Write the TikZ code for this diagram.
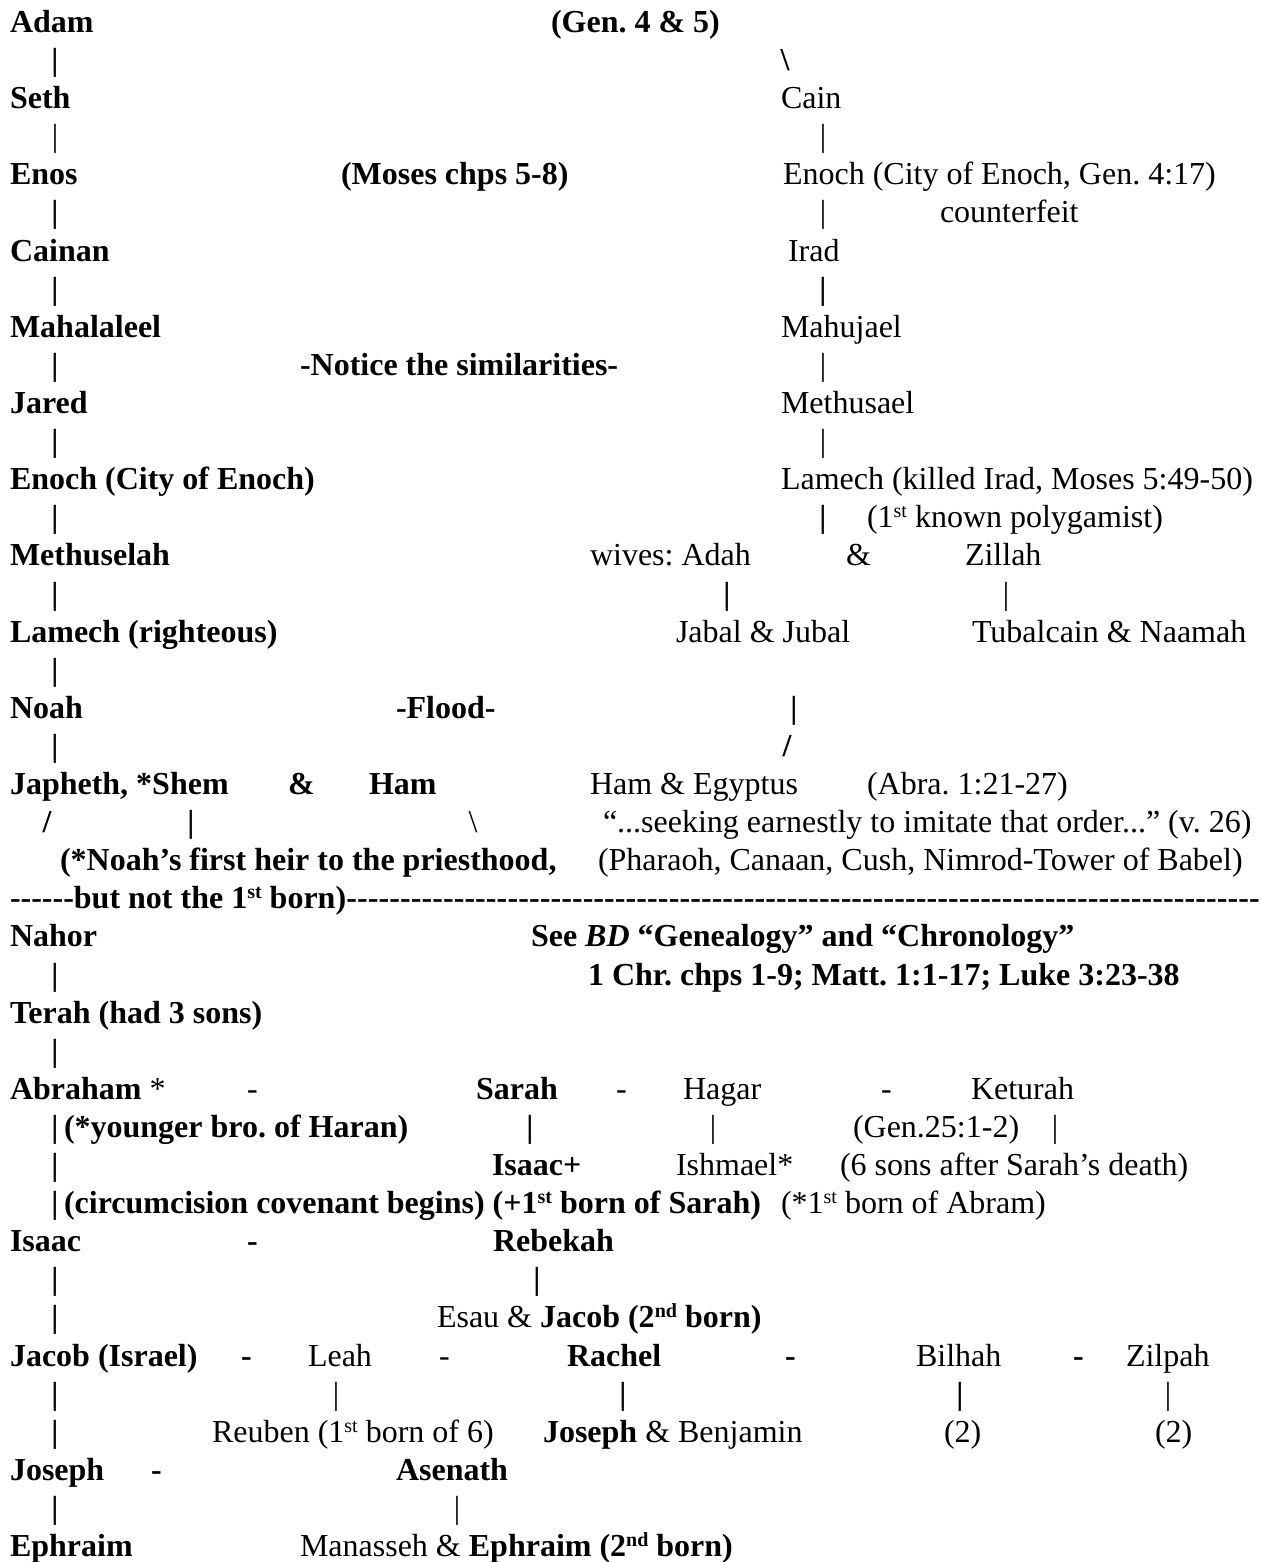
\documentclass[tikz,border=0pt]{standalone}
\usepackage{fontspec}
\setmainfont{Liberation Serif}[Ligatures=TeXOff]
\frenchspacing
\newcommand\myfs{\fontsize{32}{38}\selectfont}
\newcommand\ly[1]{32.5+38.1*#1}
\newcommand\sups[1]{\raisebox{10pt}{\fontsize{20}{20}\selectfont #1}}
\tikzset{
  tb/.style={anchor=base west, inner sep=0pt, outer sep=0pt, font=\myfs\bfseries},
  tr/.style={anchor=base west, inner sep=0pt, outer sep=0pt, font=\myfs},
  barb/.style={anchor=base, inner sep=0pt, outer sep=0pt, font=\myfs\bfseries},
  barr/.style={anchor=base, inner sep=0pt, outer sep=0pt, font=\myfs},
}
\begin{document}
\begin{tikzpicture}[x=1pt,y=-1pt]
\fill[white] (0,0) rectangle (1261,1562);
\useasboundingbox (0,0) rectangle (1261,1562);
% line 0
\node[tb] (adam) at (10,{\ly{0}}) {Adam};
\node[tb] (gen45) at (551,{\ly{0}}) {(Gen. 4 \& 5)};
% line 1
\node[barb] (v1) at (55,{\ly{1}}) {|};
\node[barb] (bs1) at (785,{\ly{1}}) {\textbackslash};
% line 2
\node[tb] (seth) at (10,{\ly{2}}) {Seth};
\node[tr] (cain) at (781,{\ly{2}}) {Cain};
% line 3
\node[barr] (v3) at (55,{\ly{3}}) {|};
\node[barr] (w3) at (823,{\ly{3}}) {|};
% line 4
\node[tb] (enos) at (10,{\ly{4}}) {Enos};
\node[tb] (moses) at (341,{\ly{4}}) {(Moses chps 5-8)};
\node[tr] (enochc) at (783,{\ly{4}}) {Enoch (City of Enoch, Gen. 4:17)};
% line 5
\node[barb] (v5) at (55,{\ly{5}}) {|};
\node[barr] (w5) at (823,{\ly{5}}) {|};
\node[tr] (counter) at (940,{\ly{5}}) {counterfeit};
% line 6
\node[tb] (cainan) at (10,{\ly{6}}) {Cainan};
\node[tr] (irad) at (788,{\ly{6}}) {Irad};
% line 7
\node[barb] (v7) at (55,{\ly{7}}) {|};
\node[barb] (w7) at (823,{\ly{7}}) {|};
% line 8
\node[tb] (mahal) at (10,{\ly{8}}) {Mahalaleel};
\node[tr] (mahuj) at (781,{\ly{8}}) {Mahujael};
% line 9
\node[barb] (v9) at (55,{\ly{9}}) {|};
\node[tb] (notice) at (300,{\ly{9}}) {-Notice the similarities-};
\node[barr] (w9) at (823,{\ly{9}}) {|};
% line 10
\node[tb] (jared) at (10,{\ly{10}}) {Jared};
\node[tr] (methusael) at (781,{\ly{10}}) {Methusael};
% line 11
\node[barb] (v11) at (55,{\ly{11}}) {|};
\node[barr] (w11) at (823,{\ly{11}}) {|};
% line 12
\node[tb] (enoch) at (10,{\ly{12}}) {Enoch (City of Enoch)};
\node[tr] (lamechc) at (781,{\ly{12}}) {Lamech (killed Irad, Moses 5:49-50)};
% line 13
\node[barb] (v13) at (55,{\ly{13}}) {|};
\node[barb] (w13) at (823,{\ly{13}}) {|};
\node[tr] (polyg) at (867,{\ly{13}}) {(1\sups{st} known polygamist)};
% line 14
\node[tb] (methuselah) at (10,{\ly{14}}) {Methuselah};
\node[tr] (adah) at (590,{\ly{14}}) {wives: Adah};
\node[tr] (amp14) at (846,{\ly{14}}) {\&};
\node[tr] (zillah) at (965,{\ly{14}}) {Zillah};
% line 15
\node[barb] (v15) at (55,{\ly{15}}) {|};
\node[barb] (w15a) at (727,{\ly{15}}) {|};
\node[barr] (w15b) at (1006,{\ly{15}}) {|};
% line 16
\node[tb] (lamech) at (10,{\ly{16}}) {Lamech (righteous)};
\node[tr] (jabal) at (676,{\ly{16}}) {Jabal \& Jubal};
\node[tr] (tubal) at (972,{\ly{16}}) {Tubalcain \& Naamah};
% line 17
\node[barb] (v17) at (55,{\ly{17}}) {|};
% line 18
\node[tb] (noah) at (10,{\ly{18}}) {Noah};
\node[tb] (flood) at (396,{\ly{18}}) {-Flood-};
\node[barb] (w18) at (794,{\ly{18}}) {|};
% line 19
\node[barb] (v19) at (55,{\ly{19}}) {|};
\node[barb] (sl19) at (787,{\ly{19}}) {/};
% line 20
\node[tb] (japheth) at (10,{\ly{20}}) {Japheth, *Shem};
\node[tb] (amp20) at (288,{\ly{20}}) {\&};
\node[tb] (ham) at (369,{\ly{20}}) {Ham};
\node[tr] (hameg) at (590,{\ly{20}}) {Ham \& Egyptus};
\node[tr] (abra) at (867,{\ly{20}}) {(Abra. 1:21-27)};
% line 21
\node[barb] (sl21) at (47,{\ly{21}}) {/};
\node[barb] (v21) at (191,{\ly{21}}) {|};
\node[barr] (bs21) at (473,{\ly{21}}) {\textbackslash};
\node[tr] (quote) at (603,{\ly{21}}) {“...seeking earnestly to imitate that order...” (v. 26)};
% line 22
\node[tb] (heir) at (60,{\ly{22}}) {(*Noah’s first heir to the priesthood,};
\node[tr] (pharaoh) at (598,{\ly{22}}) {(Pharaoh, Canaan, Cush, Nimrod-Tower of Babel)};
% line 23
\node[tb] (sep) at (10,{\ly{23}}) {\hbox to 1250pt{------but not the 1\sups{st} born)\xleaders\hbox{-}\hfill}};
% line 24
\node[tb] (nahor) at (10,{\ly{24}}) {Nahor};
\node[tb] (seebd) at (531,{\ly{24}}) {See \textit{BD} “Genealogy” and “Chronology”};
% line 25
\node[barb] (v25) at (55,{\ly{25}}) {|};
\node[tb] (chr) at (588,{\ly{25}}) {1 Chr. chps 1-9; Matt. 1:1-17; Luke 3:23-38};
% line 26
\node[tb] (terah) at (10,{\ly{26}}) {Terah (had 3 sons)};
% line 27
\node[barb] (v27) at (55,{\ly{27}}) {|};
% line 28
\node[tb] (abraham) at (10,{\ly{28}}) {Abraham \mdseries *};
\node[tr] (d28a) at (247,{\ly{28}}) {-};
\node[tb] (sarah) at (476,{\ly{28}}) {Sarah};
\node[tr] (d28b) at (616,{\ly{28}}) {-};
\node[tr] (hagar) at (683,{\ly{28}}) {Hagar};
\node[tr] (d28c) at (881,{\ly{28}}) {-};
\node[tr] (keturah) at (971,{\ly{28}}) {Keturah};
% line 29
\node[barb] (v29) at (55,{\ly{29}}) {|};
\node[tb] (younger) at (64,{\ly{29}}) {(*younger bro. of Haran)};
\node[barb] (w29a) at (530,{\ly{29}}) {|};
\node[barr] (w29b) at (713,{\ly{29}}) {|};
\node[tr] (gen25) at (853,{\ly{29}}) {(Gen.25:1-2)};
\node[barr] (w29c) at (1055,{\ly{29}}) {|};
% line 30
\node[barb] (v30) at (55,{\ly{30}}) {|};
\node[tb] (isaacp) at (492,{\ly{30}}) {Isaac+};
\node[tr] (ishmael) at (676,{\ly{30}}) {Ishmael*};
\node[tr] (sixsons) at (840,{\ly{30}}) {(6 sons after Sarah’s death)};
% line 31
\node[barb] (v31) at (55,{\ly{31}}) {|};
\node[tb] (circ) at (64,{\ly{31}}) {(circumcision covenant begins) (+1\sups{st} born of Sarah)};
\node[tr] (abram) at (781,{\ly{31}}) {(*1\sups{st} born of Abram)};
% line 32
\node[tb] (isaac) at (10,{\ly{32}}) {Isaac};
\node[tb] (d32) at (247,{\ly{32}}) {-};
\node[tb] (rebekah) at (493,{\ly{32}}) {Rebekah};
% line 33
\node[barb] (v33) at (55,{\ly{33}}) {|};
\node[barb] (w33) at (537,{\ly{33}}) {|};
% line 34
\node[barb] (v34) at (55,{\ly{34}}) {|};
\node[tr] (esau) at (437,{\ly{34}}) {Esau \& \textbf{Jacob (2\sups{nd} born)}};
% line 35
\node[tb] (jacob) at (10,{\ly{35}}) {Jacob (Israel)};
\node[tb] (d35a) at (241,{\ly{35}}) {-};
\node[tr] (leah) at (308,{\ly{35}}) {Leah};
\node[tr] (d35b) at (439,{\ly{35}}) {-};
\node[tb] (rachel) at (567,{\ly{35}}) {Rachel};
\node[tb] (d35c) at (785,{\ly{35}}) {-};
\node[tr] (bilhah) at (916,{\ly{35}}) {Bilhah};
\node[tb] (d35d) at (1073,{\ly{35}}) {-};
\node[tr] (zilpah) at (1126,{\ly{35}}) {Zilpah};
% line 36
\node[barb] (v36) at (55,{\ly{36}}) {|};
\node[barr] (w36a) at (336,{\ly{36}}) {|};
\node[barb] (w36b) at (623,{\ly{36}}) {|};
\node[barb] (w36c) at (960,{\ly{36}}) {|};
\node[barr] (w36d) at (1168,{\ly{36}}) {|};
% line 37
\node[barb] (v37) at (55,{\ly{37}}) {|};
\node[tr] (reuben) at (212,{\ly{37}}) {Reuben (1\sups{st} born of 6)};
\node[tr] (josben) at (543,{\ly{37}}) {\textbf{Joseph} \& Benjamin};
\node[tr] (two1) at (944,{\ly{37}}) {(2)};
\node[tr] (two2) at (1155,{\ly{37}}) {(2)};
% line 38
\node[tb] (joseph) at (10,{\ly{38}}) {Joseph};
\node[tb] (d38) at (151,{\ly{38}}) {-};
\node[tb] (asenath) at (396,{\ly{38}}) {Asenath};
% line 39
\node[barb] (v39) at (55,{\ly{39}}) {|};
\node[barr] (w39) at (457,{\ly{39}}) {|};
% line 40
\node[tb] (ephraim) at (10,{\ly{40}}) {Ephraim};
\node[tr] (manasseh) at (300,{\ly{40}}) {Manasseh \& \textbf{Ephraim (2\sups{nd} born)}};
\end{tikzpicture}
\end{document}
